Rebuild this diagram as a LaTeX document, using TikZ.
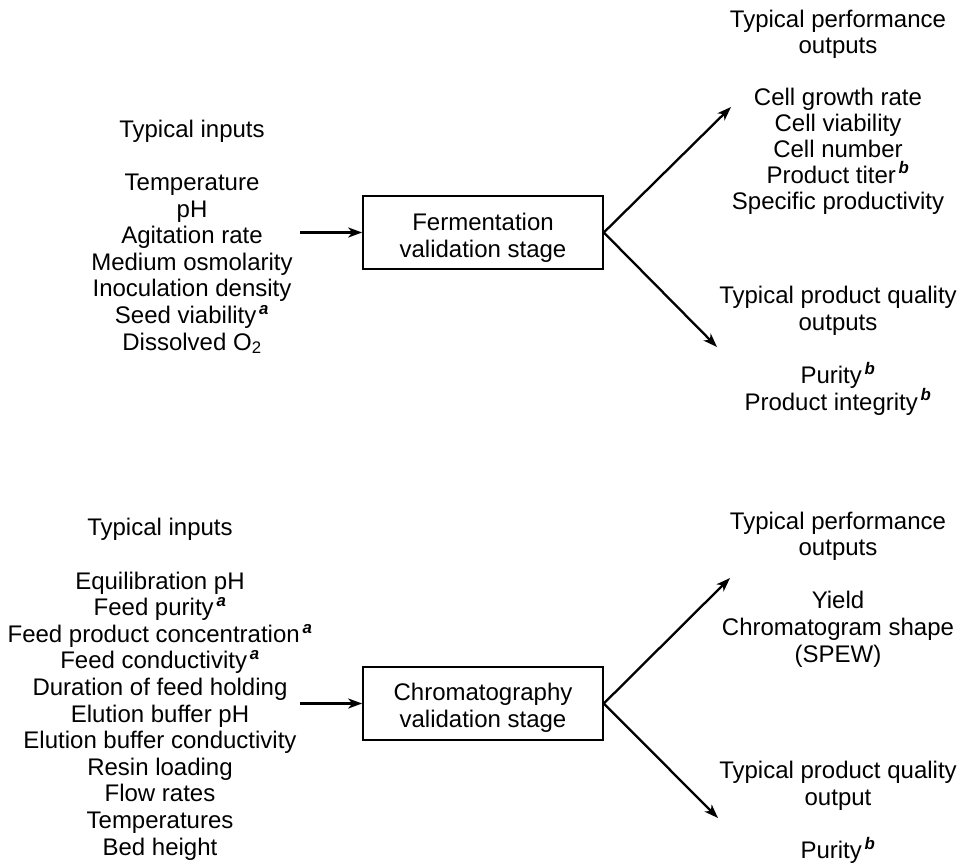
\documentclass[tikz,border=0pt]{standalone}
\usepackage{fontspec}
\setmainfont{Liberation Sans}
\usetikzlibrary{arrows.meta}
\newcommand{\supit}[1]{\textsuperscript{\,\bfseries\itshape #1}}
\begin{document}
\begin{tikzpicture}[x=1pt,y=-1pt,
  txt/.style={font=\fontsize{24}{26.6}\selectfont, align=center, inner sep=0pt, anchor=base},
  stage/.style={draw, line width=1.6pt, minimum width=240pt, minimum height=73pt, inner sep=0pt},
  flow/.style={line width=2.3pt, -{Stealth[length=14pt,width=10pt,inset=4pt]}}]
\useasboundingbox (0,0) rectangle (961,862);

% ---------- Fermentation ----------
\node[txt] (fin) at (192,350) {Typical inputs\\[26.6pt] Temperature\\ pH\\ Agitation rate\\ Medium osmolarity\\ Inoculation density\\ Seed viability\supit{a}\\ Dissolved O\textsubscript{2}};
\node[stage] (fbox) at (483,232.5) {};
\node[txt] (ftext) at (483,257) {Fermentation\\ validation stage};
\coordinate (fstart) at (300,232.5);
\coordinate (fperfend) at (731,107);
\coordinate (fqualend) at (717,347);
\draw[flow] (fstart) -- (fbox.west);
\draw[flow] (fbox.east) -- (fperfend);
\draw[flow] (fbox.east) -- (fqualend);
\node[txt, font=\fontsize{24}{26}\selectfont] (fperf) at (838,209) {Typical performance\\ outputs\\[26pt] Cell growth rate\\ Cell viability\\ Cell number\\ Product titer\supit{b}\\ Specific productivity};
\node[txt] (fqual) at (838,410) {Typical product quality\\ outputs\\[26.6pt] Purity\supit{b}\\ Product integrity\supit{b}};

% ---------- Chromatography ----------
\node[txt] (cin) at (160,855) {Typical inputs\\[26.6pt] Equilibration pH\\ Feed purity\supit{a}\\ Feed product concentration\supit{a}\\ Feed conductivity\supit{a}\\ Duration of feed holding\\ Elution buffer pH\\ Elution buffer conductivity\\ Resin loading\\ Flow rates\\ Temperatures\\ Bed height};
\node[stage] (cbox) at (483,703.5) {};
\node[txt] (ctext) at (483,727) {Chromatography\\ validation stage};
\coordinate (cstart) at (300,703.5);
\coordinate (cperfend) at (730,578);
\coordinate (cqualend) at (718,818);
\draw[flow] (cstart) -- (cbox.west);
\draw[flow] (cbox.east) -- (cperfend);
\draw[flow] (cbox.east) -- (cqualend);
\node[txt] (cperf) at (838,662) {Typical performance\\ outputs\\[26.6pt] Yield\\ Chromatogram shape\\ (SPEW)};
\node[txt] (cqual) at (838,858.5) {Typical product quality\\ output\\[26.6pt] Purity\supit{b}};
\end{tikzpicture}
\end{document}
